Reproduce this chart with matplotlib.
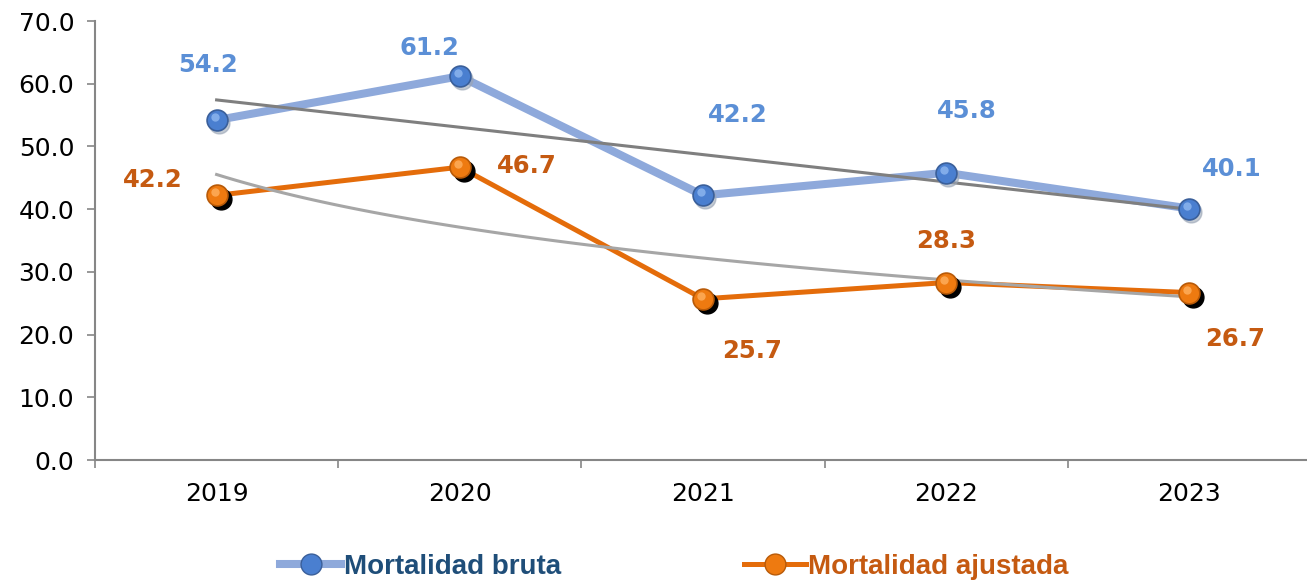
import numpy as np
import matplotlib
matplotlib.use("Agg")
import matplotlib.pyplot as plt
from matplotlib import transforms
from matplotlib.lines import Line2D

years = ["2019", "2020", "2021", "2022", "2023"]
bruta = [54.2, 61.2, 42.2, 45.8, 40.1]
ajustada = [42.2, 46.7, 25.7, 28.3, 26.7]

# label offsets in pixels (dx, dy)
off_bruta = [(-9, 55), (-30, 28), (35, 80), (21, 62), (42, 40)]
off_ajus = [(-64, 15), (67, 1), (49, -52), (0, 42), (46, -46)]

c_bline = "#8EA9DB"
c_bmark = "#4A7FD0"
c_blab = "#5B8FD6"
c_oline = "#E46C0A"
c_omark = "#EE7A10"
c_olab = "#C55A11"

plt.rcParams['font.family'] = ['DejaVu Sans']
fig = plt.figure(figsize=(13.07, 5.84), dpi=100)
ax = fig.add_axes([0.0727, 0.2123, 0.9303, 0.7517])

x = np.arange(len(years))

# trend lines, fitted like the spreadsheet does (linear / logarithmic)
p_lin = np.polyfit(x + 1, bruta, 1)
p_log = np.polyfit(np.log(x + 1), ajustada, 1)
xx = np.linspace(0, 4, 100)

ax.plot(x, bruta, color=c_bline, lw=5.8, solid_capstyle='round', zorder=2)
ax.plot(x, ajustada, color=c_oline, lw=3.6, solid_capstyle='round', zorder=2)
ax.plot(xx, np.polyval(p_lin, xx + 1), color="#7F7F7F", lw=2.2, zorder=3)
ax.plot(xx, np.polyval(p_log, np.log(xx + 1)), color="#A6A6A6", lw=2.2, zorder=3)

# marker shadows
sh_o = transforms.offset_copy(ax.transData, fig=fig, x=4, y=-4, units='dots')
sh_b = transforms.offset_copy(ax.transData, fig=fig, x=2, y=-3, units='dots')
ax.plot(x, ajustada, 'o', ms=15, color='black', transform=sh_o, zorder=4)
ax.plot(x, bruta, 'o', ms=15, color='#9aa5b5', alpha=0.6, transform=sh_b, zorder=4)

ax.plot(x, bruta, 'o', ms=15, mfc=c_bmark, mec="#3A5F9A", mew=1.2, zorder=5)
ax.plot(x, ajustada, 'o', ms=15, mfc=c_omark, mec="#B85A08", mew=1.2, zorder=5)
# highlights
hl = transforms.offset_copy(ax.transData, fig=fig, x=-2, y=3, units='dots')
ax.plot(x, bruta, 'o', ms=6, color='#8FB8F0', alpha=0.8, mew=0, transform=hl, zorder=6)
ax.plot(x, ajustada, 'o', ms=6, color='#FFB060', alpha=0.8, mew=0, transform=hl, zorder=6)

for i in range(len(years)):
    ax.annotate(f"{bruta[i]:.1f}", (x[i], bruta[i]), xytext=off_bruta[i],
                textcoords='offset pixels', ha='center', va='center',
                fontsize=17.5, fontweight='bold', color=c_blab, zorder=7)
    ax.annotate(f"{ajustada[i]:.1f}", (x[i], ajustada[i]), xytext=off_ajus[i],
                textcoords='offset pixels', ha='center', va='center',
                fontsize=17.5, fontweight='bold', color=c_olab, zorder=7)

ax.set_xlim(-0.5, 4.5)
ax.set_ylim(0, 70)
ax.set_yticks(np.arange(0, 71, 10))
ax.set_yticklabels([f"{v:.1f}" for v in np.arange(0, 71, 10)])
ax.set_xticks(x)
ax.set_xticklabels(years)
ax.set_xticks(np.arange(-0.5, 4.6, 1), minor=True)
ax.tick_params(axis='x', which='major', length=0, pad=16, labelsize=18)
ax.tick_params(axis='x', which='minor', length=6, width=1.2, color='#868686')
ax.tick_params(axis='y', length=6, width=1.2, color='#868686', pad=9, labelsize=18)
for s in ['top', 'right']:
    ax.spines[s].set_visible(False)
for s in ['left', 'bottom']:
    ax.spines[s].set_color('#868686')
    ax.spines[s].set_linewidth(1.5)

h1 = Line2D([], [], color=c_bline, lw=5.8, marker='o', ms=15, mfc=c_bmark, mec="#3A5F9A")
h2 = Line2D([], [], color=c_oline, lw=3.6, marker='o', ms=15, mfc=c_omark, mec="#B85A08")
leg = fig.legend([h1, h2], ["Mortalidad bruta", "Mortalidad ajustada"],
                 loc='center', bbox_to_anchor=(0.516, 0.029), ncol=2, frameon=False,
                 handlelength=2.2, handletextpad=0.1, columnspacing=6.6,
                 prop={'family': 'Liberation Sans', 'weight': 'bold', 'size': 20})
leg.get_texts()[0].set_color("#1F4E79")
leg.get_texts()[1].set_color(c_olab)

fig.savefig("out.png", dpi=100)
